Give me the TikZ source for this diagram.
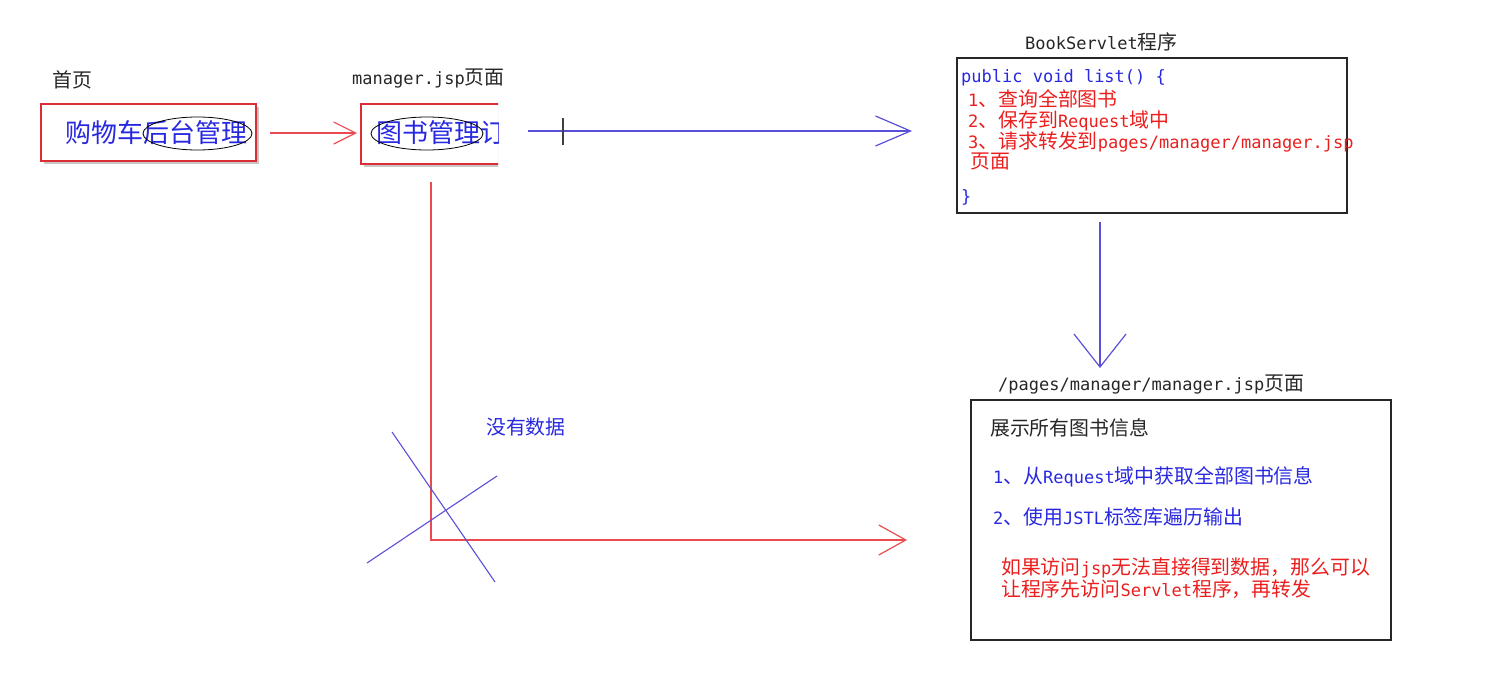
\documentclass[tikz,border=0pt]{standalone}
\usepackage{fontspec}
\setmainfont{DejaVu Sans Mono}
\newfontfamily\cjkfont[Scale=1.17]{Noto Sans CJK SC}
\newcommand\zh[1]{{\cjkfont #1}}
\usetikzlibrary{arrows.meta,shapes.geometric,shadows}
\definecolor{boxred}{RGB}{220,45,55}
\definecolor{linered}{RGB}{235,75,80}
\definecolor{txtblue}{RGB}{40,40,225}
\definecolor{lineblue}{RGB}{90,80,215}
\definecolor{txtred}{RGB}{235,30,30}
\tikzset{
  lbl/.style={anchor=base west,inner sep=0pt,font=\fontsize{17}{20}\selectfont,text=black!85},
  bigtxt/.style={anchor=base west,inner sep=0pt,font=\fontsize{22.2}{26}\selectfont,text=txtblue},
  pagebox/.style={draw=boxred,line width=1.4pt,fill=white,rectangle,inner sep=0pt,
     drop shadow={shadow xshift=3pt,shadow yshift=-3pt,opacity=0.55,fill=black!40}},
  codebox/.style={draw=black!85,line width=1.3pt,rectangle,inner sep=0pt},
  oval/.style={draw=black,line width=0.8pt,ellipse,inner sep=0pt},
  redarrow/.style={draw=linered,line width=1.2pt},
  bluearrow/.style={draw=lineblue,line width=1.2pt},
}
\begin{document}
\begin{tikzpicture}[x=1pt,y=-1pt]
\useasboundingbox (0,0) rectangle (1488,672);

% home page
\node[lbl] (home) at (52,87) {\zh{首页}};
\node[pagebox,minimum width=215pt,minimum height=57pt] (box1) at (148.5,132.5) {};
\node[bigtxt] (t1) at (65,142) {\zh{购物车后台管理}};
\node[oval,minimum width=109pt,minimum height=33pt] (e1) at (197.5,133.5) {};

% manager.jsp page (clipped)
\node[lbl] (mgr) at (352,84) {manager.jsp\zh{页面}};
\begin{scope}
  \clip (350,95) rectangle (498,175);
  \node[pagebox,minimum width=240pt,minimum height=60pt] (box2) at (481,134) {};
  \node[bigtxt] (t2) at (376,142) {\zh{图书管理订单}};
  \node[oval,minimum width=112pt,minimum height=33pt] (e2) at (427,133.5) {};
\end{scope}

% first red arrow
\coordinate (a1s) at (270,133);
\coordinate (a1e) at (357,133);
\draw[redarrow,-{Straight Barb[length=22pt,width=22pt]}] (a1s) -- (a1e);

% blue arrow to servlet
\coordinate (a2s) at (528,131);
\coordinate (a2e) at (912,131);
\draw[bluearrow,-{Straight Barb[length=35pt,width=30pt]}] (a2s) -- (a2e);
\coordinate (cur1) at (563,118);
\coordinate (cur2) at (563,145);
\draw[black!75,line width=1.6pt] (cur1) -- (cur2);

% BookServlet box
\node[lbl] (bsl) at (1025,49) {BookServlet\zh{程序}};
\node[codebox,minimum width=390pt,minimum height=155pt] (box3) at (1152,135.5) {};
\node[lbl,text=txtblue] (c0) at (961,82) {public void list() \{};
\node[lbl,text=txtred] (c1) at (968,106) {1\zh{、查询全部图书}};
\node[lbl,text=txtred] (c2) at (968,127) {2\zh{、保存到}Request\zh{域中}};
\node[lbl,text=txtred] (c3) at (968,148) {3\zh{、请求转发到}pages/manager/manager.jsp};
\node[lbl,text=txtred] (c4) at (970,168) {\zh{页面}};
\node[lbl,text=txtblue] (c5) at (961,202) {\}};

% down arrow
\coordinate (a3s) at (1100,222);
\coordinate (a3e) at (1100,368);
\draw[bluearrow,-{Straight Barb[length=33pt,width=52pt]}] (a3s) -- (a3e);

% manager.jsp page box
\node[lbl] (pg) at (998,390) {/pages/manager/manager.jsp\zh{页面}};
\node[codebox,minimum width=420pt,minimum height=240pt] (box4) at (1181,520) {};
\node[lbl] (d0) at (990,435) {\zh{展示所有图书信息}};
\node[lbl,text=txtblue] (d1) at (993,483) {1\zh{、从}Request\zh{域中获取全部图书信息}};
\node[lbl,text=txtblue] (d2) at (993,524) {2\zh{、使用}JSTL\zh{标签库遍历输出}};
\node[lbl,text=txtred] (d3) at (1001,574) {\zh{如果访问}jsp\zh{无法直接得到数据，那么可以}};
\node[lbl,text=txtred] (d4) at (1001,596) {\zh{让程序先访问}Servlet\zh{程序，再转发}};

% direct (no data) path
\coordinate (a4s) at (431,182);
\coordinate (a4c) at (431,540);
\coordinate (a4e) at (907,540);
\draw[redarrow,-{Straight Barb[length=27pt,width=30pt]}] (a4s) -- (a4c) -- (a4e);
\node[lbl,text=txtblue] (nd) at (486,434) {\zh{没有数据}};

% cross
\coordinate (x1a) at (392,432);
\coordinate (x1b) at (495,582);
\coordinate (x2a) at (367,563);
\coordinate (x2b) at (497,476);
\draw[lineblue,line width=1.1pt] (x1a) -- (x1b);
\draw[lineblue,line width=1.1pt] (x2a) -- (x2b);
\end{tikzpicture}
\end{document}
